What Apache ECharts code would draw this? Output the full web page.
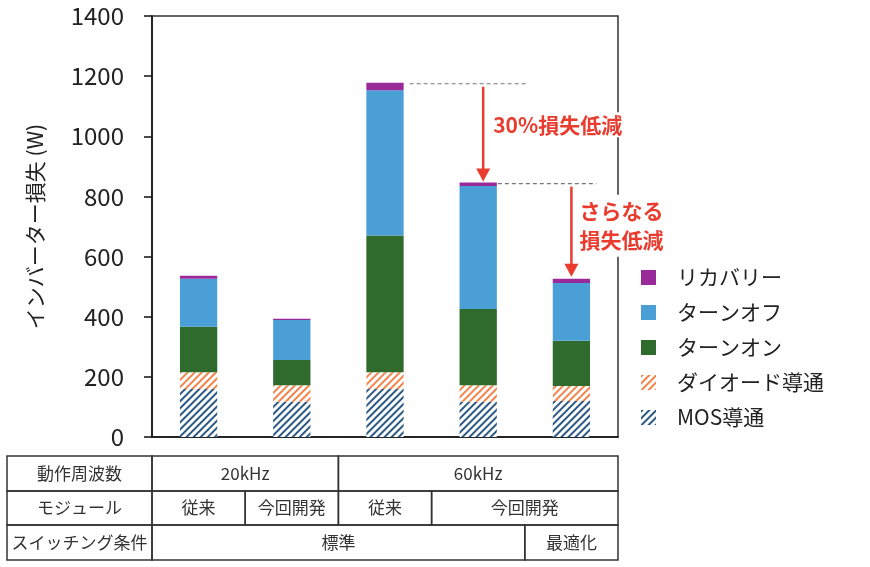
<!DOCTYPE html>
<html>
<head>
<meta charset="utf-8">
<script src="https://cdn.jsdelivr.net/npm/echarts@6/dist/echarts.min.js"></script>
<style>
  html, body { margin: 0; padding: 0; background: #fff; }
  #main { width: 870px; height: 567px; }
</style>
</head>
<body>
<div id="main"></div>
<script>
var categories = ['20kHz 従来', '20kHz 今回開発', '60kHz 従来', '60kHz 今回開発', '60kHz 最適化']
var mosData = [160, 117, 160, 117, 120]
var diodeData = [55, 55, 55, 55, 50]
var turnOnData = [152, 84, 455, 254, 150]
var turnOffData = [159, 133, 483, 409, 192]
var recoveryData = [10, 4, 25, 11, 14]
var yTicks = [0, 200, 400, 600, 800, 1000, 1200, 1400]

// 表の内容（spanはカテゴリ数）
var rowLabels = ['動作周波数', 'モジュール', 'スイッチング条件']
var freqRow = [['20kHz', 2], ['60kHz', 3]]
var moduleRow = [['従来', 1], ['今回開発', 1], ['従来', 1], ['今回開発', 2]]
var condRow = [['標準', 4], ['最適化', 1]]

var FONT = '"Noto Sans CJK JP", "Noto Sans", sans-serif'
var RED = '#e93b2e'

var myChart = echarts.init(document.getElementById('main'))

function stripe(c) {
    return {
        symbol: 'rect',
        symbolSize: 1,
        dashArrayX: [1, 0],
        dashArrayY: [2, 3],
        rotation: -Math.PI / 4,
        color: c
    }
}

var option = {
    animation: false,
    backgroundColor: '#fff',
    grid: {
        left: 152, right: 252, top: 16, bottom: 130,
        show: true, borderColor: '#333', borderWidth: 1.5
    },
    legend: {
        orient: 'vertical',
        left: 636, top: 262,
        itemWidth: 15, itemHeight: 15, itemGap: 14,
        icon: 'rect',
        data: ['リカバリー', 'ターンオフ', 'ターンオン', 'ダイオード導通', 'MOS導通'],
        textStyle: { fontSize: 21, color: '#222', fontFamily: FONT, padding: [0, 0, 0, 16] }
    },
    xAxis: {
        type: 'category',
        data: categories,
        axisLabel: { show: false },
        axisTick: { show: false },
        axisLine: { lineStyle: { color: '#111', width: 1.5 } }
    },
    yAxis: {
        type: 'value',
        min: 0, max: 1400, interval: 200,
        name: 'インバーター損失 (W)',
        nameLocation: 'middle',
        nameGap: 106,
        nameTextStyle: { fontSize: 21, color: '#222', fontFamily: FONT },
        splitLine: { show: false },
        axisLine: { show: true, lineStyle: { color: '#111', width: 1.5 } },
        axisTick: { show: true, inside: false, length: 8, lineStyle: { color: '#111', width: 1.5 } },
        axisLabel: {
            fontSize: 24, color: '#222', fontFamily: FONT, margin: 28,
            formatter: function (v) { return yTicks.indexOf(v) >= 0 ? String(v) : '' }
        }
    },
    series: [
        { name: 'MOS導通', type: 'bar', stack: 'loss', barWidth: '40%', data: mosData,
          itemStyle: { color: '#ffffff', decal: stripe('#2d5a86') } },
        { name: 'ダイオード導通', type: 'bar', stack: 'loss', data: diodeData,
          itemStyle: { color: '#ffffff', decal: stripe('#f0844a') } },
        { name: 'ターンオン', type: 'bar', stack: 'loss', data: turnOnData,
          itemStyle: { color: '#2f6b2c' } },
        { name: 'ターンオフ', type: 'bar', stack: 'loss', data: turnOffData,
          itemStyle: { color: '#4a9fd6' } },
        { name: 'リカバリー', type: 'bar', stack: 'loss', data: recoveryData,
          itemStyle: { color: '#9a2a9a' } }
    ]
}

myChart.setOption(option)

// 合計値
var totals = categories.map(function (c, i) {
    return mosData[i] + diodeData[i] + turnOnData[i] + turnOffData[i] + recoveryData[i]
})

function px(i, v) {
    return myChart.convertToPixel({ seriesIndex: 0 }, [i, v])
}

var band = px(1, 0)[0] - px(0, 0)[0]
var barW = band * 0.4
var g = []

function dashLine(x1, x2, y) {
    g.push({ type: 'line', z: 50, shape: { x1: x1, y1: y, x2: x2, y2: y },
        style: { stroke: '#777', lineWidth: 1.2, lineDash: [4, 3] } })
}
function arrow(x, y1, y2) {
    g.push({ type: 'line', z: 50, shape: { x1: x, y1: y1, x2: x, y2: y2 - 10 },
        style: { stroke: RED, lineWidth: 2.5 } })
    g.push({ type: 'polygon', z: 50, shape: { points: [[x - 7, y2 - 13], [x + 7, y2 - 13], [x, y2]] },
        style: { fill: RED } })
}

// 破線と矢印
var p2 = px(2, totals[2]), p3 = px(3, totals[3]), p4 = px(4, totals[4])
dashLine(p2[0] + barW / 2 + 6, p3[0] + 50, p2[1] + 1)
dashLine(p3[0] + barW / 2 + 1, p4[0] + 25, p3[1] + 1)
arrow(p3[0] + 5, p2[1] + 4, p3[1] - 1)
arrow(p4[0], p3[1] + 4, p4[1] - 2)

g.push({ type: 'text', z: 60, style: {
    text: '30%損失低減', x: p3[0] + 13, y: (p2[1] + p3[1]) / 2 - 8,
    verticalAlign: 'middle', align: 'left',
    font: 'bold 21px ' + FONT, fill: RED,
    backgroundColor: '#fff', padding: [2, 2]
} })
g.push({ type: 'text', z: 60, style: {
    text: 'さらなる\n損失低減', x: p4[0] + 6, y: (p3[1] + p4[1]) / 2 - 5,
    verticalAlign: 'middle', align: 'left', lineHeight: 29,
    font: 'bold 21px ' + FONT, fill: RED,
    backgroundColor: '#fff', padding: [2, 2]
} })

// 表
var tLeft = 7
var rowY = [456, 491, 525, 560]
var x0 = px(0, 0)[0] - band / 2
function cell(x1, x2, r, text) {
    g.push({ type: 'rect', z: 40, shape: { x: x1, y: rowY[r], width: x2 - x1, height: rowY[r + 1] - rowY[r] },
        style: { fill: 'none', stroke: '#333', lineWidth: 1.5 } })
    g.push({ type: 'text', z: 41, style: {
        text: text, x: (x1 + x2) / 2, y: (rowY[r] + rowY[r + 1]) / 2,
        align: 'center', verticalAlign: 'middle',
        font: '17px ' + FONT, fill: '#333'
    } })
}
;[freqRow, moduleRow, condRow].forEach(function (row, r) {
    cell(tLeft, x0, r, rowLabels[r])
    var k = 0
    row.forEach(function (c) {
        cell(x0 + k * band, x0 + (k + c[1]) * band, r, c[0])
        k += c[1]
    })
})

myChart.setOption({ graphic: g })
</script>
</body>
</html>
